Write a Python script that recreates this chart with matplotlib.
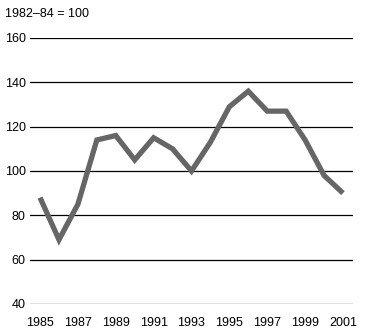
import matplotlib
matplotlib.use("Agg")
import matplotlib.pyplot as plt

plt.rcParams['font.family'] = ['Liberation Sans', 'DejaVu Sans']

# index values, 1982-84 = 100
years = list(range(1985, 2002))
index_vals = [88, 69, 85, 114, 116, 105, 115, 110, 100, 113, 129, 136, 127, 127, 114, 98, 90]
y_ticks = [40, 60, 80, 100, 120, 140, 160]
x_ticks = list(range(1985, 2002, 2))

fig = plt.figure(figsize=(3.66, 3.36), dpi=100)
ax = fig.add_axes([30 / 366, 32 / 336, 323 / 366, 266 / 336])

for v in y_ticks:
    ax.axhline(v, color='black', linewidth=0.9, zorder=1)

ax.plot(years, index_vals, color='#666666', linewidth=3.8, zorder=2,
        solid_joinstyle='miter', solid_capstyle='butt')

ax.set_ylim(40, 160)
ax.set_xlim(1984.47, 2001.53)
ax.set_yticks(y_ticks)
ax.set_xticks(x_ticks)
ax.set_xticklabels([str(x) for x in x_ticks])
ax.tick_params(length=0, labelsize=9, pad=3)
ax.tick_params(axis='x', pad=9)
for s in ax.spines.values():
    s.set_visible(False)

fig.text(5 / 366, 1 - 14 / 336, '1982\u201384 = 100', fontsize=9, va='center', ha='left')

fig.savefig('out.png', dpi=100)
